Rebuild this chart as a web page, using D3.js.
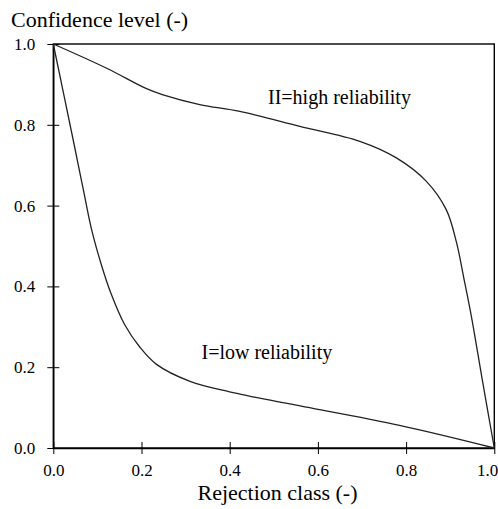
<!DOCTYPE html>
<html><head><meta charset="utf-8">
<script src="https://cdn.jsdelivr.net/npm/d3@7"></script>
</head><body style="margin:0">
<script>
const xTicks = [0, 0.2, 0.4, 0.6, 0.8, 1.0];
const yTicks = [0, 0.2, 0.4, 0.6, 0.8, 1.0];
const lowX = [0, 0.045, 0.068, 0.087, 0.11, 0.13, 0.162, 0.196, 0.234, 0.31, 0.40, 0.536, 0.785, 1.0];
const lowY = [1.0, 0.763, 0.64, 0.54, 0.45, 0.385, 0.305, 0.25, 0.207, 0.165, 0.139, 0.109, 0.056, 0.0];
const highX = [0, 0.121, 0.21, 0.249, 0.332, 0.423, 0.559, 0.695, 0.778, 0.846, 0.891, 0.914, 0.931, 0.948, 0.974, 1.0];
const highY = [1.0, 0.94, 0.89, 0.874, 0.85, 0.833, 0.796, 0.759, 0.718, 0.66, 0.59, 0.51, 0.42, 0.326, 0.161, 0.0];
const labels = ["II=high reliability", "I=low reliability"];

const FONT = "Liberation Serif";
const W = 498, H = 509;
const svg = d3.select("body").append("svg").attr("width", W).attr("height", H)
  .style("display", "block").style("font-family", FONT);
const x = d3.scaleLinear().domain([0, 1]).range([53.3, 494.3]);
const y = d3.scaleLinear().domain([0, 1]).range([448, 44]);

svg.append("rect").attr("x", x(0)).attr("y", y(1)).attr("width", x(1) - x(0)).attr("height", y(0) - y(1))
  .attr("fill", "none").attr("stroke", "#000").attr("stroke-width", 1.4);

const xAxis = d3.axisBottom(x).tickValues(xTicks).tickFormat(d3.format(".1f")).tickSize(6).tickSizeOuter(0);
const gx = svg.append("g").attr("transform", `translate(0,${y(0)})`).call(xAxis)
  .attr("font-family", null).style("font-family", FONT);
gx.select(".domain").attr("stroke-width", 1.4);
gx.selectAll(".tick line").attr("y1", -6).attr("y2", 6).attr("stroke-width", 1);
gx.selectAll(".tick text").attr("y", 28).attr("dy", null).attr("fill", "#000")
  .style("font-family", FONT).style("font-size", "17px")
  .filter(d => d === 1).attr("text-anchor", "end").attr("x", 3.5);

const yAxis = d3.axisLeft(y).tickValues(yTicks).tickFormat(d3.format(".1f")).tickSize(6).tickSizeOuter(0);
const gy = svg.append("g").attr("transform", `translate(${x(0)},0)`).call(yAxis)
  .attr("font-family", null).style("font-family", FONT);
gy.select(".domain").attr("stroke-width", 1.4);
gy.selectAll(".tick line").attr("x1", -6).attr("x2", 6).attr("stroke-width", 1);
gy.selectAll(".tick text").attr("x", -18).attr("fill", "#000")
  .style("font-family", FONT).style("font-size", "17px");

const line = d3.line().x(d => x(d[0])).y(d => y(d[1])).curve(d3.curveCatmullRom.alpha(0.5));
svg.append("path").datum(lowX.map((v, i) => [v, lowY[i]])).attr("d", line)
  .attr("fill", "none").attr("stroke", "#222").attr("stroke-width", 1.3);
svg.append("path").datum(highX.map((v, i) => [v, highY[i]])).attr("d", line)
  .attr("fill", "none").attr("stroke", "#222").attr("stroke-width", 1.3);

function txt(xp, yp, size, s, anchor) {
  svg.append("text").attr("x", xp).attr("y", yp).attr("text-anchor", anchor || "start")
    .style("font-family", FONT).style("font-size", size + "px").style("fill", "#000").text(s);
}
txt(268, 104, 20, labels[0]);
txt(201.5, 359, 20, labels[1]);
txt(11, 27, 22, "Confidence level (-)");
txt(277.5, 499.5, 22, "Rejection class (-)", "middle");
</script>
</body></html>
